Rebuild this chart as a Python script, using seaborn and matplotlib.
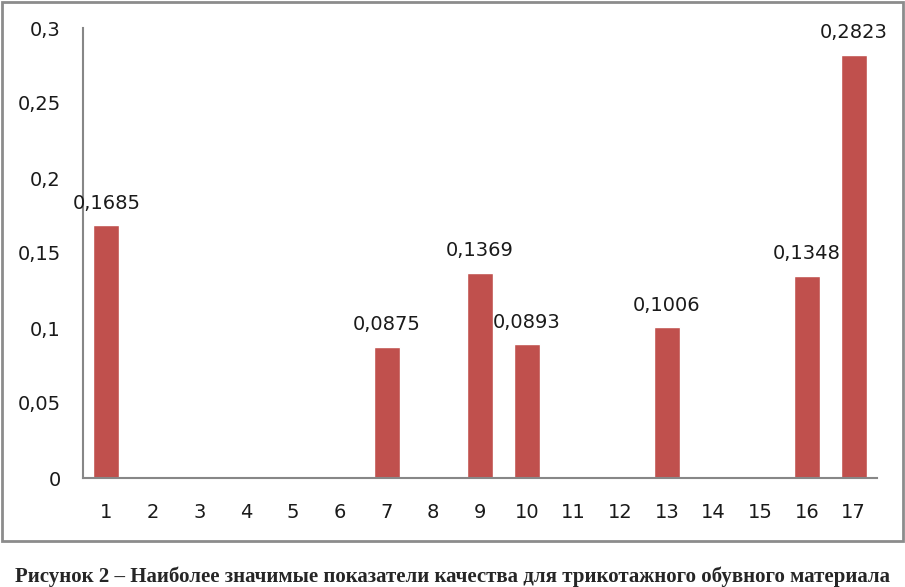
import matplotlib
matplotlib.use("Agg")
import matplotlib.pyplot as plt
import seaborn as sns
import pandas as pd
from matplotlib.patches import Rectangle

CATEGORIES = [str(i) for i in range(1, 18)]
VALUES = [0.1685, 0, 0, 0, 0, 0, 0.0875, 0, 0.1369, 0.0893,
          0, 0, 0.1006, 0, 0, 0.1348, 0.2823]
Y_TICKS = [0, 0.05, 0.1, 0.15, 0.2, 0.25, 0.3]
CAPTION = "Рисунок 2 – Наиболее значимые показатели качества для трикотажного обувного материала"

BAR_RED = "#C0504D"
AXIS_GREY = "#878787"


def comma(v):
    return f"{v:g}".replace(".", ",")


df = pd.DataFrame({"num": CATEGORIES, "value": VALUES})

sns.set_style("white")
plt.rcParams["font.family"] = ["DejaVu Sans"]

fig = plt.figure(figsize=(9.05, 5.87), dpi=100)
ax = fig.add_axes([83 / 905, 1 - 478 / 587, 794 / 905, 450 / 587])

sns.barplot(data=df, x="num", y="value", color=BAR_RED, width=0.56,
            saturation=1, ax=ax)

labels = [comma(v) if v > 0 else "" for v in VALUES]
ax.bar_label(ax.containers[0], labels=labels, padding=9, fontsize=14,
             color="#1a1a1a")

ax.set_ylim(0, 0.3)
ax.set_xlim(-0.5, len(CATEGORIES) - 0.5)
ax.set_yticks(Y_TICKS)
ax.set_yticklabels([comma(t) for t in Y_TICKS])
ax.set_xlabel("")
ax.set_ylabel("")
ax.tick_params(axis="y", length=0, pad=16, labelsize=14, colors="#1a1a1a")
ax.tick_params(axis="x", length=0, pad=18, labelsize=14, colors="#1a1a1a")

for side in ["top", "right"]:
    ax.spines[side].set_visible(False)
for side in ["left", "bottom"]:
    ax.spines[side].set_color(AXIS_GREY)
    ax.spines[side].set_linewidth(1.5)

# chart frame
fig.patches.append(Rectangle((2 / 905, 1 - 541 / 587), 901 / 905, 539 / 587,
                             transform=fig.transFigure, fill=False,
                             edgecolor="#8c8c8c", linewidth=2))

fig.text(0.5, 1 - 577 / 587, CAPTION, ha="center", va="center",
         fontsize=15, fontweight="bold", family=["Liberation Serif"])

fig.savefig("out.png", dpi=100)
